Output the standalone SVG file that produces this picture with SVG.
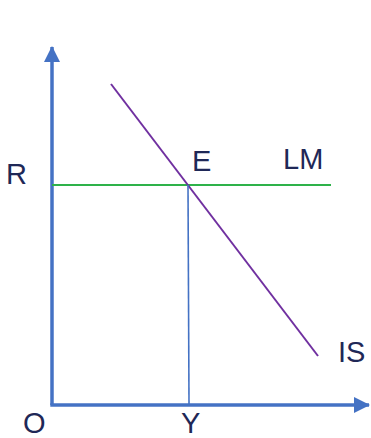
<svg xmlns="http://www.w3.org/2000/svg" width="371" height="438" viewBox="0 0 371 438">
<style>
.lbl{font-family:"Liberation Sans",Arial,sans-serif;font-size:29px;fill:#1f2857}
.axis{stroke:#4472c4;stroke-width:3.5;fill:none}
</style>
<defs>
<marker id="ah" markerUnits="userSpaceOnUse" markerWidth="16" markerHeight="16" refX="15" refY="8" orient="auto">
<path d="M0,0 L16,8 L0,16 Z" fill="#4472c4"/>
</marker>
</defs>
<rect width="371" height="438" fill="#fff"/>
<g id="connectors">
<line class="axis" x1="52" y1="405" x2="52" y2="47" marker-end="url(#ah)"/>
<line class="axis" x1="50.3" y1="405" x2="369" y2="405" marker-end="url(#ah)"/>
<line id="LM" x1="52" y1="185" x2="331" y2="185" stroke="#2eb24a" stroke-width="2"/>
<line id="IS" x1="111" y1="84" x2="318" y2="356" stroke="#7030a0" stroke-width="2"/>
<line id="drop" x1="188" y1="185" x2="189" y2="404" stroke="#4472c4" stroke-width="1.6"/>
</g>
<g id="label-R"><text class="lbl" x="6" y="184">R</text></g>
<g id="label-E"><text class="lbl" x="192" y="171">E</text></g>
<g id="label-LM"><text class="lbl" x="283" y="169">LM</text></g>
<g id="label-IS"><text class="lbl" x="338" y="362">IS</text></g>
<g id="label-O"><text class="lbl" x="23" y="433">O</text></g>
<g id="label-Y"><text class="lbl" x="181" y="433">Y</text></g>
</svg>
